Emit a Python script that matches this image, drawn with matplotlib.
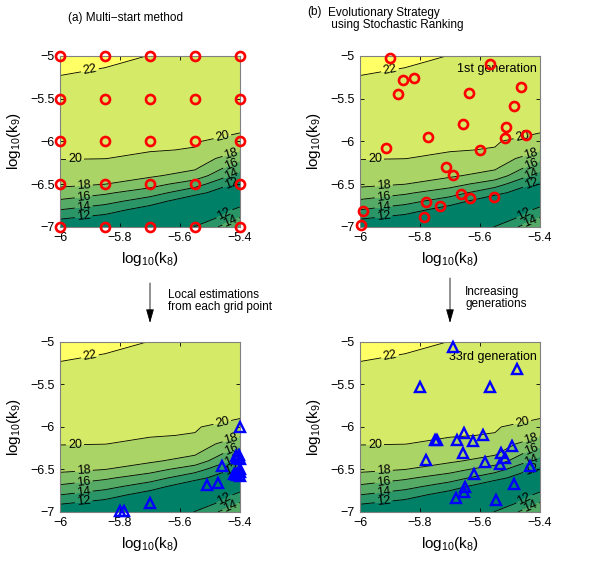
import numpy as np
import matplotlib
matplotlib.use('Agg')
import matplotlib.pyplot as plt

plt.rcParams['font.family'] = ['Liberation Sans', 'DejaVu Sans']
plt.rcParams['mathtext.default'] = 'regular'

# --- objective surface ---
k8_grid = [-6.0, -5.85, -5.7, -5.55, -5.4]
k9_grid = [-7.0, -6.9, -6.8, -6.7, -6.6, -6.5, -6.4, -6.3, -6.2, -6.1,
           -6.0, -5.9, -5.8, -5.5, -5.0]
z_grid = [
    [10.40,  9.50,  9.00, 12.10, 15.80],
    [12.18, 11.22, 10.00, 10.20, 14.16],
    [14.00, 12.96, 11.00,  9.60, 12.50],
    [15.67, 14.67, 13.00, 10.40, 11.00],
    [17.33, 16.33, 14.91, 12.67, 10.20],
    [18.36, 18.02, 16.84, 14.84, 11.39],
    [18.97, 18.67, 18.31, 17.20, 13.13],
    [19.58, 19.33, 18.98, 18.40, 14.83],
    [20.06, 20.02, 19.66, 19.21, 16.57],
    [20.26, 20.19, 20.09, 19.93, 18.23],
    [20.46, 20.38, 20.26, 20.14, 19.14],
    [20.66, 20.57, 20.43, 20.30, 20.01],
    [20.86, 20.75, 20.60, 20.45, 20.15],
    [21.46, 21.32, 21.12, 20.92, 20.58],
    [22.46, 22.26, 21.98, 21.70, 21.30],
]
levels = [12, 14, 16, 18, 20, 22]

# --- (a) multi-start grid points ---
grid_k8 = [-6.0, -5.85, -5.7, -5.55, -5.4]
grid_k9 = [-7.0, -6.5, -6.0, -5.5, -5.0]

# --- (a) local estimates from each grid point ---
local_k8 = [-5.40, -5.405, -5.41, -5.40, -5.415, -5.46, -5.40, -5.42, -5.41,
            -5.40, -5.415, -5.40, -5.475, -5.51, -5.70, -5.80, -5.785]
local_k9 = [-6.00, -6.33, -6.36, -6.38, -6.34, -6.46, -6.49, -6.55, -6.57,
            -6.53, -6.56, -6.58, -6.655, -6.685, -6.90, -6.99, -6.99]

# --- (b) 1st generation ---
gen1_k8 = [-5.900, -5.565, -5.858, -5.820, -5.873, -5.637, -5.465, -5.485,
           -5.657, -5.515, -5.518, -5.446, -5.773, -5.914, -5.601, -5.714,
           -5.690, -5.662, -5.635, -5.552, -5.781, -5.734, -5.787, -5.991, -5.997]
gen1_k9 = [-5.03, -5.10, -5.28, -5.256, -5.447, -5.439, -5.361, -5.583,
           -5.80, -5.835, -5.963, -5.924, -5.944, -6.08, -6.099, -6.301,
           -6.39, -6.612, -6.662, -6.650, -6.709, -6.759, -6.883, -6.817, -6.98]

# --- (b) 33rd generation ---
gen33_k8 = [-5.690, -5.476, -5.801, -5.566, -5.654, -5.590, -5.751, -5.745,
            -5.676, -5.623, -5.494, -5.529, -5.656, -5.779, -5.518, -5.582,
            -5.535, -5.435, -5.621, -5.487, -5.649, -5.653, -5.681, -5.546]
gen33_k9 = [-5.059, -5.314, -5.529, -5.529, -6.07, -6.10, -6.15, -6.15,
            -6.149, -6.165, -6.224, -6.306, -6.306, -6.392, -6.37, -6.41,
            -6.44, -6.46, -6.56, -6.667, -6.706, -6.765, -6.835, -6.863]

xticks = [-6.0, -5.8, -5.6, -5.4]
xticklabels = ['\u22126', '\u22125.8', '\u22125.6', '\u22125.4']
yticks = [-7.0, -6.5, -6.0, -5.5, -5.0]
yticklabels = ['\u22127', '\u22126.5', '\u22126', '\u22125.5', '\u22125']

# inline label spots (on the contour lines)
label_spots = [(-5.90, -5.17), (-5.95, -6.215), (-5.46, -5.93),
               (-5.92, -6.545), (-5.43, -6.14), (-5.92, -6.69), (-5.43, -6.255),
               (-5.92, -6.80), (-5.43, -6.37), (-5.92, -6.915), (-5.43, -6.485),
               (-5.45, -6.86), (-5.43, -6.945)]

summer = plt.get_cmap('summer')
band_colors = [summer(i / 6) for i in range(7)]

X, Y = np.meshgrid(k8_grid, k9_grid)
Z = np.array(z_grid)

fig = plt.figure(figsize=(6, 5.7), dpi=100)
boxes = [[0.10, 0.602, 0.30, 0.300], [0.60, 0.602, 0.30, 0.300],
         [0.10, 0.102, 0.30, 0.298], [0.60, 0.102, 0.30, 0.298]]
axes = [fig.add_axes(b) for b in boxes]

for ax in axes:
    ax.contourf(X, Y, Z, levels=[0] + levels + [40], colors=band_colors)
    cs = ax.contour(X, Y, Z, levels=levels, colors='k', linewidths=0.6)
    ax.clabel(cs, manual=label_spots, inline=True, fontsize=9, fmt='%d',
              inline_spacing=2)
    ax.set_xlim(-6, -5.4)
    ax.set_ylim(-7, -5)
    ax.set_xticks(xticks)
    ax.set_xticklabels(xticklabels)
    ax.set_yticks(yticks)
    ax.set_yticklabels(yticklabels)
    ax.tick_params(direction='in', length=3, labelsize=9, width=0.6,
                   top=True, right=True, pad=4)
    for s in ax.spines.values():
        s.set_color('#808080')
        s.set_linewidth(0.8)
    ax.set_xlabel('log$_{10}$(k$_8$)', fontsize=11, labelpad=4)
    ax.set_ylabel('log$_{10}$(k$_9$)', fontsize=11, labelpad=5)

circ = dict(marker='o', ls='none', mfc='none', mec='red', ms=6.5, mew=1.9,
            clip_on=False, zorder=5)
tri = dict(marker='^', ls='none', mfc='none', mec='blue', ms=7.5, mew=1.7,
           clip_on=False, zorder=5)

gx, gy = np.meshgrid(grid_k8, grid_k9)
axes[0].plot(gx.ravel(), gy.ravel(), **circ)
axes[1].plot(gen1_k8, gen1_k9, **circ)
axes[2].plot(local_k8, local_k9, **tri)
axes[3].plot(gen33_k8, gen33_k9, **tri)

axes[1].text(0.98, 0.925, '1st generation', transform=axes[1].transAxes,
             ha='right', va='center', fontsize=9)
axes[3].text(0.98, 0.914, '33rd generation', transform=axes[3].transAxes,
             ha='right', va='center', fontsize=9)

def fx(px):
    return px / 600

def fy(py):
    return 1 - py / 570

fig.text(fx(125), fy(18), '(a) Multi\u2212start method', ha='center',
         va='center', fontsize=8.5)
fig.text(fx(307), fy(12.5), '(b)', ha='left', va='center', fontsize=8.5)
fig.text(fx(328), fy(19), 'Evolutionary Strategy\n using Stochastic Ranking',
         ha='left', va='center', fontsize=8.5, linespacing=1.1)

arrow = dict(arrowstyle='-|>,head_width=0.2,head_length=0.7', color='k',
             lw=0.6, shrinkA=0, shrinkB=0)
fig.add_artist(matplotlib.patches.FancyArrowPatch(
    (fx(150), fy(283)), (fx(150), fy(323)), transform=fig.transFigure,
    mutation_scale=12, **arrow))
fig.add_artist(matplotlib.patches.FancyArrowPatch(
    (fx(450), fy(278)), (fx(450), fy(323)), transform=fig.transFigure,
    mutation_scale=12, **arrow))
fig.text(fx(168), fy(301), 'Local estimations\nfrom each grid point',
         ha='left', va='center', fontsize=8.5, linespacing=1.1)
fig.text(fx(465), fy(298), 'Increasing\ngenerations',
         ha='left', va='center', fontsize=8.5, linespacing=1.1)

fig.savefig('out.png', dpi=100)
